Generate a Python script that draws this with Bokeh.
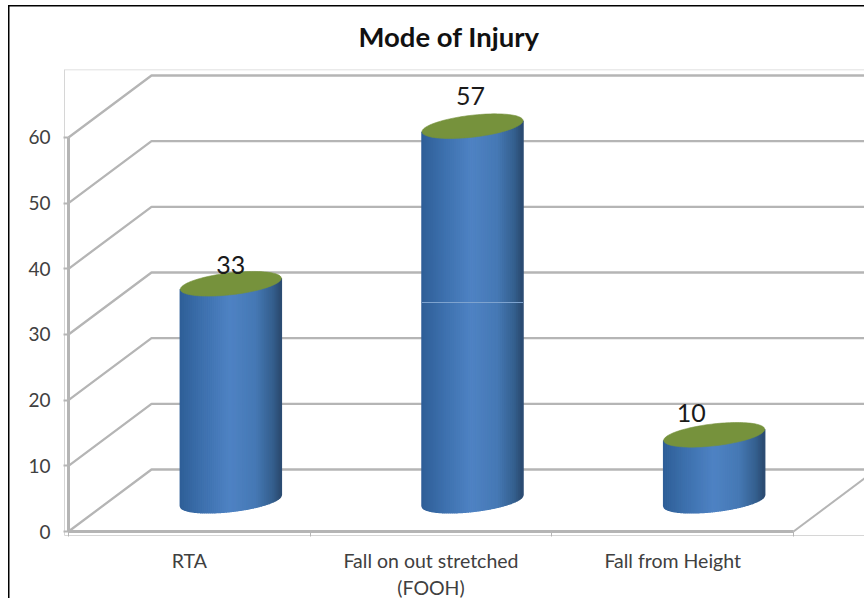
import numpy as np
from bokeh.plotting import figure
from bokeh.models import LinearAxis, FixedTicker, Range1d, Title
from bokeh.core.properties import value
from bokeh.embed import file_html
from bokeh.resources import INLINE

title_text = "Mode of Injury"
categories = ["RTA", "Fall on out stretched\n(FOOH)", "Fall from Height"]
injuries = [33, 57, 10]
value_ticks = [0, 10, 20, 30, 40, 50, 60]

# geometry of the fake 3D box, in screen pixels
PX_CAT = 241.67
PX_VAL = 6.567
DEPTH_X = 83 / PX_CAT
DEPTH_Y = 62 / PX_VAL
BAR_A = 50.5 / PX_CAT
BAR_B = 11.0
TILT = 0.11
N = 50
WALL = "#b5b5b5"
FRAME = "#d6d6d6"
TOP = "#76923c"
STOPS = [(0, "#2f5f97"), (0.2, "#3c6fac"), (0.5, "#4f83c4"),
         (0.75, "#4679b5"), (0.92, "#35608f"), (1, "#2b4a70")]


def shade(t):
    pos = [s[0] for s in STOPS]
    rgb = [[int(s[1][i:i + 2], 16) for i in (1, 3, 5)] for s in STOPS]
    return "#%02x%02x%02x" % tuple(int(np.interp(t, pos, [c[k] for c in rgb])) for k in range(3))


def edge(u, sign):
    px = TILT * 50.5 * u + sign * BAR_B * np.sqrt(np.clip(1 - u * u, 0, 1))
    return px / PX_VAL


p = figure(width=864, height=598, output_backend="svg", toolbar_location=None,
           x_axis_type=None, y_axis_type=None,
           x_range=Range1d(-4 / PX_CAT, 796 / PX_CAT),
           y_range=Range1d(-4 / PX_VAL, 462 / PX_VAL),
           frame_width=800, frame_height=466,
           min_border_left=64, min_border_right=0, min_border_top=69, min_border_bottom=63,
           background_fill_color="white", border_fill_color=None, outline_line_color=None)
p.styles = {"background": "linear-gradient(#000,#000) 8px 5px / 1.5px 593px no-repeat, "
                          "linear-gradient(#000,#000) 8px 5px / 856px 1.5px no-repeat, #fff"}
p.xgrid.visible = False
p.ygrid.visible = False

p.add_layout(Title(text=title_text, align="left", offset=294, text_font="Lato",
                   text_font_size="27.5px", text_font_style="bold", text_color="#111111",
                   standoff=33), "above")

yaxis = LinearAxis(ticker=FixedTicker(ticks=value_ticks))
yaxis.axis_line_color = FRAME
yaxis.major_tick_line_color = WALL
yaxis.major_tick_line_width = 2
yaxis.major_tick_in = 4
yaxis.major_tick_out = 1
yaxis.minor_tick_line_color = None
yaxis.major_label_standoff = 13
yaxis.major_label_text_font = "Lato"
yaxis.major_label_text_font_size = "19px"
yaxis.major_label_text_color = "#404040"
p.add_layout(yaxis, "left")

centres = [i + 0.5 for i in range(len(categories))]
xaxis = LinearAxis(ticker=FixedTicker(ticks=centres, minor_ticks=list(range(len(categories) + 1))))
xaxis.major_label_overrides = {c: n for c, n in zip(centres, categories)}
xaxis.axis_line_color = FRAME
xaxis.major_tick_line_color = None
xaxis.minor_tick_line_color = WALL
xaxis.minor_tick_in = 4
xaxis.minor_tick_out = 1
xaxis.major_label_standoff = 7
xaxis.major_label_text_font = "Lato"
xaxis.major_label_text_font_size = "19.5px"
xaxis.major_label_text_color = "#404040"
p.add_layout(xaxis, "below")

# frame top
ytop = 462 / PX_VAL
p.segment([-4 / PX_CAT], [ytop], [796 / PX_CAT], [ytop], line_color=FRAME, line_width=1.5)

# walls
far = 3 + 0.3
xs = [[0, DEPTH_X, far + DEPTH_X] for _ in value_ticks]
ys = [[v, v + DEPTH_Y, v + DEPTH_Y] for v in value_ticks]
p.multi_line(xs, ys, line_color=WALL, line_width=2.3)
p.line([0, 0], [0, value_ticks[-1]], line_color=WALL, line_width=3)
p.line([0, 3], [0, 0], line_color=WALL, line_width=3)
p.line([3, 3 + DEPTH_X], [0, DEPTH_Y], line_color=WALL, line_width=2)

# cylinders
for i, v in enumerate(injuries):
    cx = centres[i] + DEPTH_X / 2
    base = DEPTH_Y / 2
    us = np.linspace(-1, 1, N + 1)
    strip_x, strip_y, cols = [], [], []
    for a, b in zip(us[:-1], us[1:]):
        seg = np.linspace(a, b, 4)
        strip_x.append(list(cx + seg * BAR_A) + list(cx + seg[::-1] * BAR_A))
        strip_y.append(list(base + edge(seg, -1)) + list(base + v + edge(seg[::-1], -1)))
        cols.append(shade((a + b + 2) / 4))
    p.patches(strip_x, strip_y, fill_color=cols, line_color=cols, line_width=1.5)
    th = np.linspace(0, 2 * np.pi, 121)
    u = np.cos(th)
    top_y = base + v + (TILT * 50.5 * u + BAR_B * np.sin(th)) / PX_VAL
    p.patch(cx + u * BAR_A, top_y, fill_color=TOP, line_color=TOP, line_width=0.6)

# faint scan line crossing the tall bar
line_val = (531 - 302) / PX_VAL
p.line([centres[1] + DEPTH_X / 2 - BAR_A, centres[1] + DEPTH_X / 2 + BAR_A], [line_val, line_val],
       line_color="#7ea3cf", line_width=1)

# value labels
label_dx = [0, -2, -23]
label_dy = [-19, -30, -22]
p.text([centres[k] + DEPTH_X / 2 for k in range(3)],
       [DEPTH_Y / 2 + v for v in injuries],
       text=[str(v) for v in injuries],
       x_offset=label_dx, y_offset=label_dy,
       text_font=value("Lato"), text_font_size="25px", text_color="#1a1a1a",
       text_align="center", text_baseline="middle")

open("out.html", "w").write(file_html(p, INLINE))
